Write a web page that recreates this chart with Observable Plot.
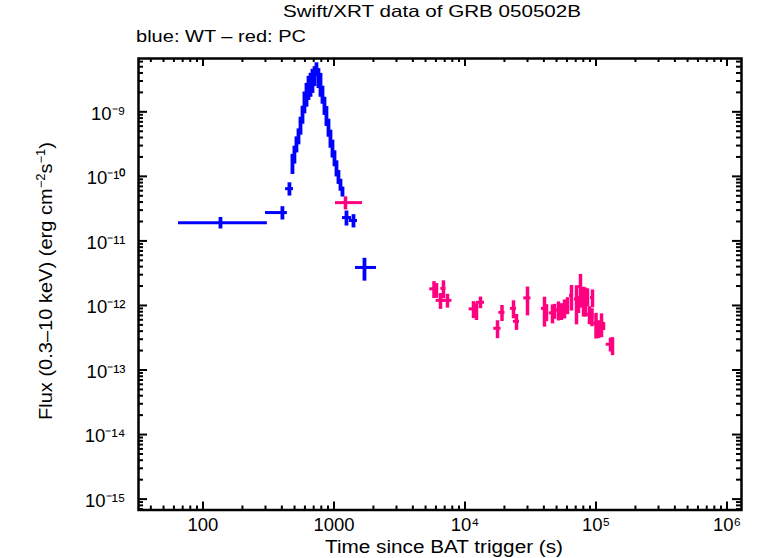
<!DOCTYPE html>
<html>
<head>
<meta charset="utf-8">
<script src="https://cdn.jsdelivr.net/npm/d3@7"></script>
<script src="https://cdn.jsdelivr.net/npm/@observablehq/plot@0.6"></script>
<style>
  html, body { margin: 0; padding: 0; background: #fff; }
  #chart { width: 757px; height: 558px; }
</style>
</head>
<body>
<div id="chart"></div>
<script>
// ---------- text ----------
const titleText = "Swift/XRT data of GRB 050502B";
const subtitleText = "blue: WT \u2013 red: PC";
const xTitle = "Time since BAT trigger (s)";

// ---------- tick values & labels ----------
const xMajorTicks = [100, 1000, 1e4, 1e5, 1e6];
const xTickLabels = ["100", "1000", "10\u2074", "10\u2075", "10\u2076"];
const yMajorTicks = [1e-9, 1e-10, 1e-11, 1e-12, 1e-13, 1e-14, 1e-15];
const yTickLabels = ["10\u207b\u2079", "10\u207b\u00b9\u2070", "10\u207b\u00b9\u00b9", "10\u207b\u00b9\u00b2",
                     "10\u207b\u00b9\u00b3", "10\u207b\u00b9\u2074", "10\u207b\u00b9\u2075"];

// ---------- WT mode (blue) ----------
const wtTime = [136, 404, 457,
  482, 499, 517, 536, 555, 575, 595, 617, 639, 662, 685, 710, 735,
  761, 789, 817, 846, 876, 908, 940, 974, 1009, 1045, 1082, 1121, 1161,
  1246, 1409, 1709];
const wtTneg = [71, 104, 30,
  5, 5, 5, 5, 5, 5, 5, 5, 5, 5, 5, 5, 5,
  5, 5, 5, 5, 5, 5, 5, 5, 5, 5, 5, 5, 5,
  85, 96, 250];
const wtTpos = [174, 37, 34,
  5, 5, 5, 5, 5, 5, 5, 5, 5, 5, 5, 5, 5,
  5, 5, 5, 5, 5, 5, 5, 5, 5, 5, 5, 5, 5,
  114, 103, 401];
const wtFlux = [1.92e-11, 2.75e-11, 6.45e-11,
  1.63e-10, 2.24e-10, 3.20e-10, 4.26e-10, 6.30e-10, 9.31e-10, 1.48e-9, 1.97e-9, 2.52e-9, 2.81e-9, 3.24e-9, 3.73e-9, 4.62e-9,
  3.48e-9, 2.81e-9, 1.90e-9, 1.28e-9, 8.99e-10, 5.86e-10, 3.96e-10, 2.78e-10, 1.95e-10, 1.36e-10, 9.9e-11, 7.44e-11, 5.80e-11,
  2.30e-11, 2.07e-11, 3.88e-12];
const wtFerr = [3.9e-12, 6.4e-12, 1.5e-11,
  5.6e-11, 6.9e-11, 8.9e-11, 1.18e-10, 1.95e-10, 2.89e-10, 5.5e-10, 7.9e-10, 1.02e-9, 1.13e-9, 1.31e-9, 1.27e-9, 1.13e-9,
  1.19e-9, 1.13e-9, 5.9e-10, 4.0e-10, 3.07e-10, 1.82e-10, 1.23e-10, 8.6e-11, 5.4e-11, 3.8e-11, 2.4e-11, 1.56e-11, 1.02e-11,
  6.0e-12, 4.8e-12, 1.5e-12];

// ---------- PC mode (red) ----------
const pcTime = [1224, 5800, 6060, 6500, 6850, 7350, 11610, 12240, 13130, 17710, 19160, 23460, 24730, 30000,
  40450, 41890, 46550, 48230, 51720, 54520, 57470, 60590, 65010, 70990, 73530, 76150, 80270, 83150, 86120,
  89200, 93220, 94040, 100000, 104500, 110200, 114100, 129000, 133700];
const pcTneg = [197, 420, 210, 475, 310, 600, 850, 430, 960, 1120, 1030, 1270, 1340, 1900,
  2180, 1470, 2510, 1690, 1810, 2450, 2010, 2120, 2280, 2480, 2570, 2670, 2810, 2910, 3010,
  3120, 3260, 3290, 3500, 3660, 5950, 4000, 9400, 4700];
const pcTpos = [427, 420, 210, 475, 310, 600, 850, 430, 960, 1120, 1030, 1270, 1340, 1900,
  2180, 1470, 2510, 1690, 1810, 2450, 2010, 2120, 2280, 2480, 2570, 2670, 2810, 2910, 3010,
  3120, 3260, 3290, 3500, 3660, 5950, 4000, 9400, 4700];
const pcFlux = [3.92e-11, 1.81e-12, 1.74e-12, 1.20e-12, 1.84e-12, 1.20e-12, 8.86e-13, 8.25e-13, 1.12e-12, 4.43e-13,
  7.82e-13, 9.02e-13, 5.68e-13, 1.31e-12, 9.02e-13, 7.96e-13, 7.68e-13, 8.25e-13, 8.55e-13, 8.25e-13, 9.18e-13,
  1.02e-12, 1.43e-12, 1.26e-12, 1.06e-12, 1.97e-12, 1.29e-12, 1.26e-12, 1.38e-12, 7.29e-13, 6.79e-13, 1.33e-12,
  5.29e-13, 4.43e-13, 5.29e-13, 4.75e-13, 2.51e-13, 2.42e-13];
const pcFerr = [9e-12, 5.3e-13, 4.5e-13, 3.3e-13, 5.7e-13, 2.9e-13, 2.6e-13, 2.4e-13, 2.3e-13, 1.37e-13,
  2.17e-13, 2.8e-13, 1.57e-13, 6.2e-13, 4.4e-13, 2.34e-13, 2.5e-13, 2.15e-13, 2.8e-13, 2.4e-13, 3.0e-13,
  3.0e-13, 6.1e-13, 7.6e-13, 3.1e-13, 1.06e-12, 6.3e-13, 6.0e-13, 4.3e-13, 2.26e-13, 2.1e-13, 4.1e-13,
  2.27e-13, 1.37e-13, 2.13e-13, 6.7e-14, 6.1e-14, 7.5e-14];

const WT_COLOR = "#0000ff";
const PC_COLOR = "#ff0080";

// ---------- build tables ----------
function table(T, Tn, Tp, F, E) {
  return T.map((t, i) => ({t, t1: t - Tn[i], t2: t + Tp[i], f: F[i], f1: F[i] - E[i], f2: F[i] + E[i]}));
}
const wt = table(wtTime, wtTneg, wtTpos, wtFlux, wtFerr);
const pc = table(pcTime, pcTneg, pcTpos, pcFlux, pcFerr);

const xDomain = [32.2, 1.29e6];
const yDomain = [6.78e-16, 6.70e-9];

const xMinorTicks = [];
for (let d = 10; d < 1e6; d *= 10) for (let m = 2; m <= 9; m++) { const v = m * d; if (v >= xDomain[0] && v <= xDomain[1]) xMinorTicks.push(v); }
const yMinorTicks = [];
for (let e = -16; e < -8; e++) for (let m = 2; m <= 9; m++) { const v = m * Math.pow(10, e); if (v >= yDomain[0] && v <= yDomain[1]) yMinorTicks.push(v); }

const xLab = new Map(xMajorTicks.map((v, i) => [v, xTickLabels[i]]));
const yLab = new Map(yMajorTicks.map((v, i) => [v, yTickLabels[i]]));

// layout
const W = 757, H = 558, mL = 138, mR = 16, mT = 58, mB = 48.5;
const frameW = W - mL - mR, frameH = H - mT - mB;

// inward ticks drawn as rules inset from the frame
const bottomTicks = (v, L) => Plot.ruleX(v, {x: d => d, insetTop: frameH - L, stroke: "#000", strokeWidth: 2});
const topTicks = (v, L) => Plot.ruleX(v, {x: d => d, insetBottom: frameH - L, stroke: "#000", strokeWidth: 2});
const leftTicks = (v, L) => Plot.ruleY(v, {y: d => d, insetRight: frameW - L, stroke: "#000", strokeWidth: 2});
const rightTicks = (v, L) => Plot.ruleY(v, {y: d => d, insetLeft: frameW - L, stroke: "#000", strokeWidth: 2});

const plot = Plot.plot({
  width: W,
  height: H,
  marginLeft: mL,
  marginRight: mR,
  marginTop: mT,
  marginBottom: mB,
  x: {type: "log", domain: xDomain},
  y: {type: "log", domain: yDomain},
  style: {fontFamily: "'Liberation Sans', Arial, Helvetica, sans-serif", fontSize: "18.5px", color: "#000", background: "#fff"},
  marks: [
    // error bars: WT
    Plot.ruleY(wt, {y: "f", x1: "t1", x2: "t2", stroke: WT_COLOR, strokeWidth: 3}),
    Plot.ruleX(wt, {x: "t", y1: "f1", y2: "f2", stroke: WT_COLOR, strokeWidth: 3.8}),
    // error bars: PC
    Plot.ruleY(pc, {y: "f", x1: "t1", x2: "t2", stroke: PC_COLOR, strokeWidth: 3}),
    Plot.ruleX(pc, {x: "t", y1: "f1", y2: "f2", stroke: PC_COLOR, strokeWidth: 3.5}),
    // tick labels
    Plot.axisX(xMajorTicks, {anchor: "bottom", tickSize: 0, tickPadding: 8, label: null, tickFormat: v => xLab.get(v)}),
    Plot.axisY(yMajorTicks, {anchor: "left", tickSize: 0, tickPadding: 13, dy: 2, label: null, tickFormat: v => yLab.get(v)}),
    // inward ticks on all four sides
    bottomTicks(xMajorTicks, 8), bottomTicks(xMinorTicks, 4),
    topTicks(xMajorTicks, 8), topTicks(xMinorTicks, 4),
    leftTicks(yMajorTicks, 9), leftTicks(yMinorTicks, 5),
    rightTicks(yMajorTicks, 9), rightTicks(yMinorTicks, 5),
    Plot.frame({stroke: "#000", strokeWidth: 2.5})
  ]
});

document.getElementById("chart").appendChild(plot);

// titles and axis titles as real SVG text
const s = d3.select(plot);
s.append("text").attr("x", 432).attr("y", 17).attr("text-anchor", "middle")
  .attr("font-size", 16.5).attr("textLength", 298).attr("lengthAdjust", "spacingAndGlyphs").text(titleText);
s.append("text").attr("x", 136).attr("y", 42).attr("text-anchor", "start")
  .attr("font-size", 16.5).attr("textLength", 170).attr("lengthAdjust", "spacingAndGlyphs").text(subtitleText);
s.append("text").attr("x", 444).attr("y", 553).attr("text-anchor", "middle")
  .attr("font-size", 18).attr("textLength", 238).attr("lengthAdjust", "spacingAndGlyphs").text(xTitle);
const yl = s.append("text").attr("transform", "translate(52,281) rotate(-90)").attr("text-anchor", "middle")
  .attr("font-size", 18.5).attr("textLength", 278).attr("lengthAdjust", "spacingAndGlyphs");
yl.append("tspan").text("Flux (0.3\u201310 keV) (erg cm");
yl.append("tspan").attr("dy", -7).attr("font-size", 12).text("\u22122");
yl.append("tspan").attr("dy", 7).text("s");
yl.append("tspan").attr("dy", -7).attr("font-size", 12).text("\u22121");
yl.append("tspan").attr("dy", 7).text(")");
</script>
</body>
</html>
